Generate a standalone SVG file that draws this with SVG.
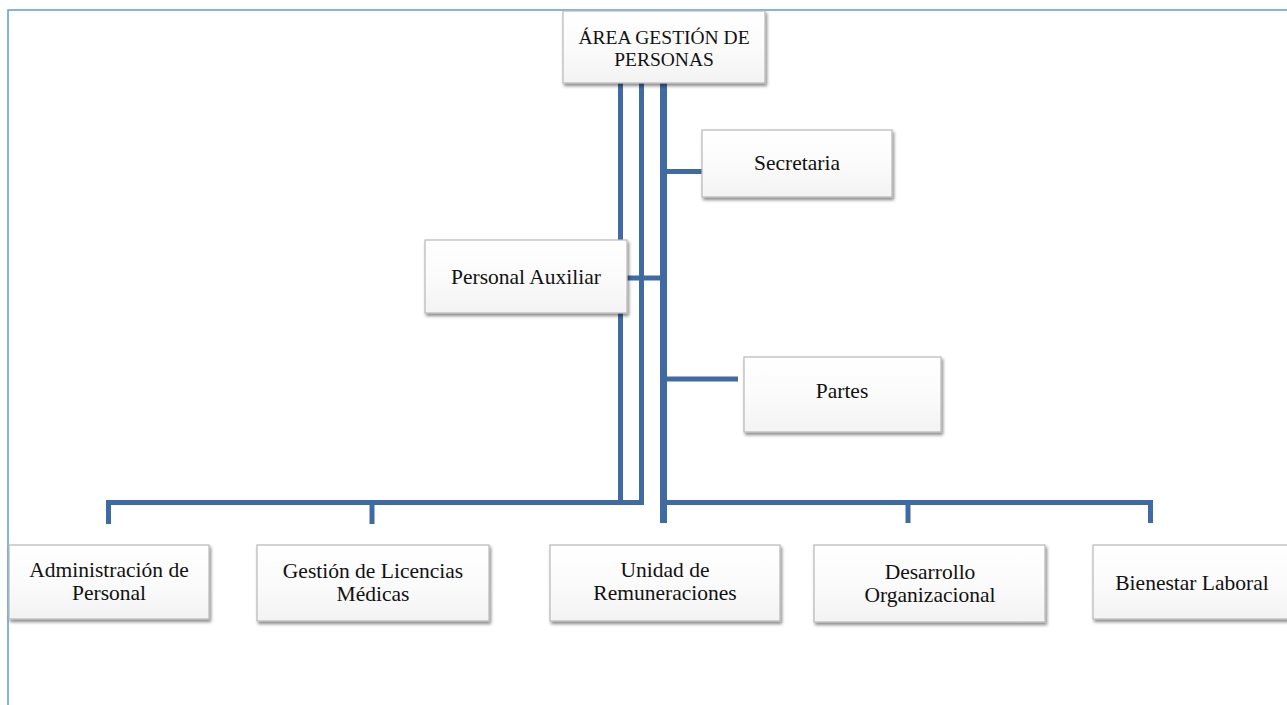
<svg xmlns="http://www.w3.org/2000/svg" width="1287" height="705" viewBox="0 0 1287 705">
<defs>
<filter id="sh" x="-10%" y="-20%" width="130%" height="150%">
<feDropShadow dx="1.5" dy="2.5" stdDeviation="1.6" flood-color="#000" flood-opacity="0.45"/>
</filter>
<linearGradient id="bg" x1="0" y1="0" x2="0" y2="1">
<stop offset="0" stop-color="#ffffff"/>
<stop offset="0.5" stop-color="#fbfbfb"/>
<stop offset="1" stop-color="#f3f3f3"/>
</linearGradient>
</defs>
<style>
.box{fill:url(#bg);stroke:#b8b8b8;stroke-width:1.2;filter:url(#sh)}
.t{font-family:"Liberation Serif","Times New Roman",serif;font-size:21.5px;fill:#111;text-anchor:middle}
.cap{font-size:19.5px}
.ln{fill:none;stroke:#3f6aa2;stroke-width:5;stroke-linejoin:miter;stroke-linecap:butt}
.frame{fill:none;stroke:#5b9bd5;stroke-width:1.5}
</style>
<rect width="1287" height="705" fill="#fff"/>
<path class="frame" d="M8,720 V10 H1300"/>
<g id="connectors">
<path class="ln" d="M108.5,524 V502.5 H641.5 V83"/>
<path class="ln" d="M620.5,83 V502.5"/>
<path class="ln" d="M372,502.5 V524"/>
<path class="ln" style="stroke-width:7" d="M663.5,83 V523"/>
<path class="ln" d="M660,502.5 H1150.5 V523"/>
<path class="ln" d="M908,502.5 V523"/>
<path class="ln" d="M663,171.5 H702"/>
<path class="ln" d="M627,278 H663"/>
<path class="ln" d="M663,379 H738"/>
</g>
<g id="n-area">
<rect class="box" x="563" y="11" width="202" height="72"/>
<text class="t cap" x="664" y="43.5">ÁREA GESTIÓN DE</text>
<text class="t cap" x="664" y="65.5">PERSONAS</text>
</g>
<g id="n-secretaria">
<rect class="box" x="702" y="130" width="190" height="67"/>
<text class="t" x="797" y="170">Secretaria</text>
</g>
<g id="n-auxiliar">
<rect class="box" x="425" y="240" width="202" height="73"/>
<text class="t" x="526" y="284">Personal Auxiliar</text>
</g>
<g id="n-partes">
<rect class="box" x="744" y="357" width="197" height="75"/>
<text class="t" x="842" y="398">Partes</text>
</g>
<g id="n-admin">
<rect class="box" x="9" y="545" width="200" height="74"/>
<text class="t" x="109" y="577">Administración de</text>
<text class="t" x="109" y="600">Personal</text>
</g>
<g id="n-licencias">
<rect class="box" x="257" y="545" width="232" height="76"/>
<text class="t" x="373" y="578">Gestión de Licencias</text>
<text class="t" x="373" y="601">Médicas</text>
</g>
<g id="n-remuneraciones">
<rect class="box" x="550" y="545" width="230" height="76"/>
<text class="t" x="665" y="577">Unidad de</text>
<text class="t" x="665" y="600">Remuneraciones</text>
</g>
<g id="n-desarrollo">
<rect class="box" x="814" y="545" width="231" height="77"/>
<text class="t" x="930" y="579">Desarrollo</text>
<text class="t" x="930" y="602">Organizacional</text>
</g>
<g id="n-bienestar">
<rect class="box" x="1093" y="545" width="200" height="74"/>
<text class="t" x="1192" y="590">Bienestar Laboral</text>
</g>
</svg>
